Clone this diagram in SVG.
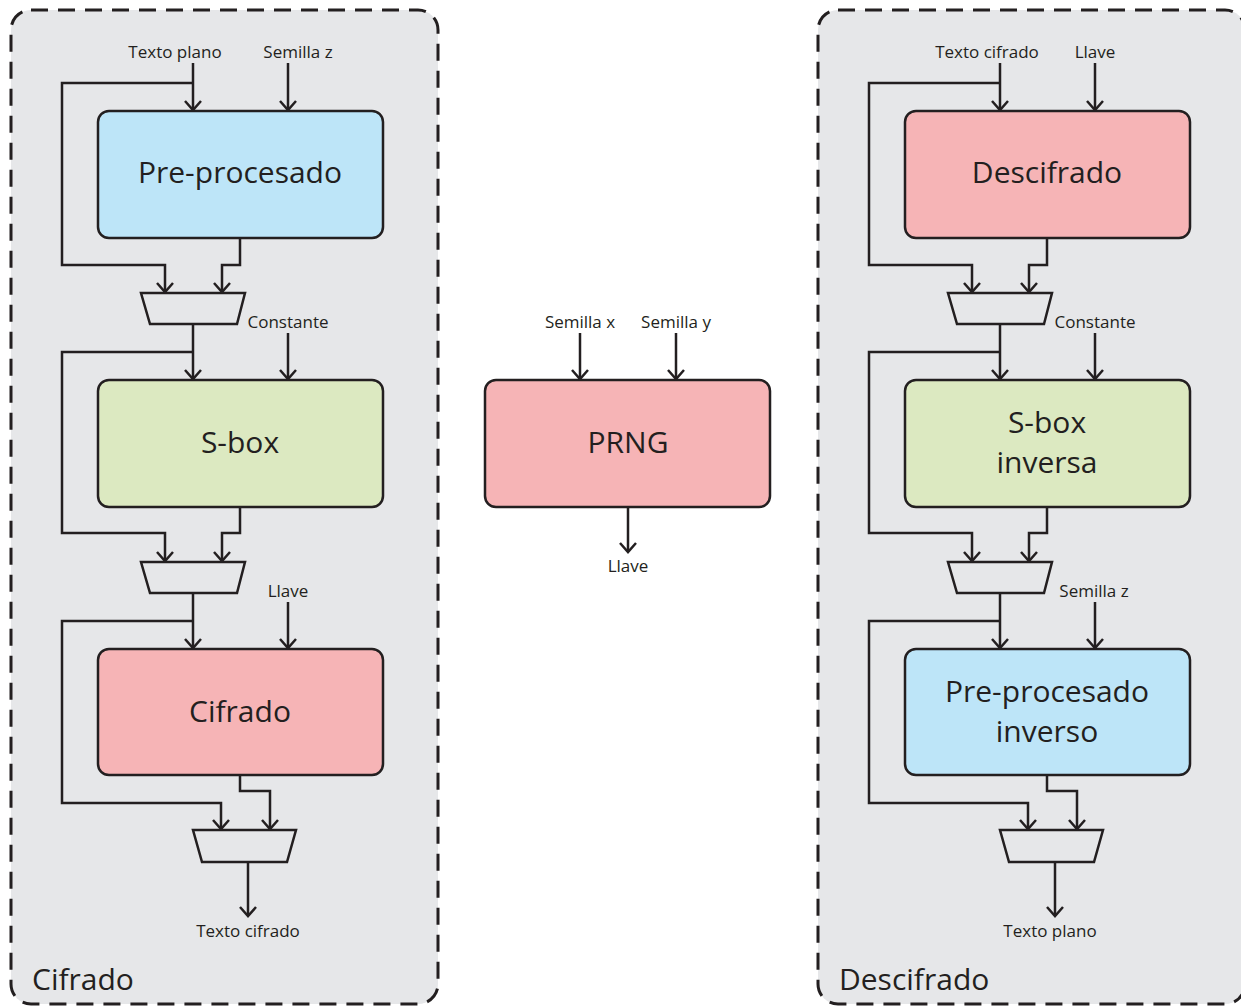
<svg xmlns="http://www.w3.org/2000/svg" width="1241" height="1006" viewBox="0 0 1241 1006">
  <style>
    .panel { fill: #e6e7e9; stroke: #231f20; stroke-width: 3; stroke-dasharray: 17 10; }
    .box { stroke: #231f20; stroke-width: 2.5; }
    .blue { fill: #bde5f8; }
    .green { fill: #dce9c1; }
    .red { fill: #f6b4b6; }
    .mux { fill: #e6e7e9; stroke: #231f20; stroke-width: 2.5; stroke-linejoin: miter; }
    .wire { fill: none; stroke: #231f20; stroke-width: 2.5; stroke-linejoin: miter; }
    .arr { marker-end: url(#head); }
    .big { font-family: "Open Sans", "Noto Sans", sans-serif; font-size: 30px; fill: #231f20; text-anchor: middle; }
    .lbl { font-family: "Open Sans", "Noto Sans", sans-serif; font-size: 17px; fill: #231f20; text-anchor: middle; }
    .title { font-family: "Open Sans", "Noto Sans", sans-serif; font-size: 30px; fill: #231f20; }
  </style>
  <defs>
    <marker id="head" markerUnits="userSpaceOnUse" markerWidth="24" markerHeight="24" refX="0" refY="0" viewBox="-12 -12 24 24" orient="auto" overflow="visible">
      <path d="M-9,-8 L0,0 L-9,8" fill="none" stroke="#231f20" stroke-width="2.5"/>
    </marker>
  </defs>

  <!-- panels -->
  <g id="panel-cifrado">
    <rect class="panel" x="11" y="10" width="427" height="994" rx="20"/>
    <text class="title" x="32" y="990">Cifrado</text>
  </g>
  <g id="panel-descifrado">
    <rect class="panel" x="818" y="10" width="427" height="994" rx="20"/>
    <text class="title" x="839" y="990">Descifrado</text>
  </g>

  <!-- connectors -->
  <g id="connectors">
    <!-- encryption column -->
    <path class="wire arr" d="M193,63 V110"/>
    <path class="wire arr" d="M288,63 V110"/>
    <path class="wire arr" d="M193,83 H62 V265 H165 V292"/>
    <path class="wire arr" d="M240,238 V265 H222 V292"/>
    <path class="wire arr" d="M193,324 V379"/>
    <path class="wire arr" d="M288,333 V379"/>
    <path class="wire arr" d="M193,352 H62 V533 H165 V561"/>
    <path class="wire arr" d="M240,507 V533 H222 V561"/>
    <path class="wire arr" d="M193,593 V648"/>
    <path class="wire arr" d="M288,602 V648"/>
    <path class="wire arr" d="M193,621 H62 V803 H221 V829"/>
    <path class="wire arr" d="M240,775 V791 H270 V829"/>
    <path class="wire arr" d="M248,862 V916"/>

    <!-- PRNG -->
    <path class="wire arr" d="M580,333 V379"/>
    <path class="wire arr" d="M676,333 V379"/>
    <path class="wire arr" d="M628,507 V552"/>

    <!-- decryption column -->
    <path class="wire arr" d="M1000,63 V110"/>
    <path class="wire arr" d="M1095,63 V110"/>
    <path class="wire arr" d="M1000,83 H869 V265 H972 V292"/>
    <path class="wire arr" d="M1047,238 V265 H1029 V292"/>
    <path class="wire arr" d="M1000,324 V379"/>
    <path class="wire arr" d="M1095,333 V379"/>
    <path class="wire arr" d="M1000,352 H869 V533 H972 V561"/>
    <path class="wire arr" d="M1047,507 V533 H1029 V561"/>
    <path class="wire arr" d="M1000,593 V648"/>
    <path class="wire arr" d="M1095,602 V648"/>
    <path class="wire arr" d="M1000,621 H869 V803 H1028 V829"/>
    <path class="wire arr" d="M1047,775 V791 H1077 V829"/>
    <path class="wire arr" d="M1055,862 V916"/>
  </g>

  <!-- encryption column nodes -->
  <g id="preprocesado">
    <rect class="box blue" x="98" y="111" width="285" height="127" rx="11"/>
    <text class="big" x="240" y="183">Pre-procesado</text>
  </g>
  <g id="mux-c1">
    <polygon class="mux" points="141,293 245,293 237,324 150,324"/>
  </g>
  <g id="sbox">
    <rect class="box green" x="98" y="380" width="285" height="127" rx="11"/>
    <text class="big" x="240" y="453">S-box</text>
  </g>
  <g id="mux-c2">
    <polygon class="mux" points="141,562 245,562 237,593 150,593"/>
  </g>
  <g id="cifrado">
    <rect class="box red" x="98" y="649" width="285" height="126" rx="11"/>
    <text class="big" x="240" y="722">Cifrado</text>
  </g>
  <g id="mux-c3">
    <polygon class="mux" points="193,830 296,830 287,862 202,862"/>
  </g>
  <g id="labels-cifrado">
    <text class="lbl" x="175" y="58">Texto plano</text>
    <text class="lbl" x="298" y="58">Semilla z</text>
    <text class="lbl" x="288" y="328">Constante</text>
    <text class="lbl" x="288" y="597">Llave</text>
    <text class="lbl" x="248" y="937">Texto cifrado</text>
  </g>

  <!-- PRNG -->
  <g id="prng">
    <rect class="box red" x="485" y="380" width="285" height="127" rx="11"/>
    <text class="big" x="628" y="453">PRNG</text>
    <text class="lbl" x="580" y="328">Semilla x</text>
    <text class="lbl" x="676" y="328">Semilla y</text>
    <text class="lbl" x="628" y="572">Llave</text>
  </g>

  <!-- decryption column nodes -->
  <g id="descifrado">
    <rect class="box red" x="905" y="111" width="285" height="127" rx="11"/>
    <text class="big" x="1047" y="183">Descifrado</text>
  </g>
  <g id="mux-d1">
    <polygon class="mux" points="948,293 1052,293 1044,324 957,324"/>
  </g>
  <g id="sbox-inversa">
    <rect class="box green" x="905" y="380" width="285" height="127" rx="11"/>
    <text class="big" x="1047" y="433">S-box</text>
    <text class="big" x="1047" y="473">inversa</text>
  </g>
  <g id="mux-d2">
    <polygon class="mux" points="948,562 1052,562 1044,593 957,593"/>
  </g>
  <g id="preprocesado-inverso">
    <rect class="box blue" x="905" y="649" width="285" height="126" rx="11"/>
    <text class="big" x="1047" y="702">Pre-procesado</text>
    <text class="big" x="1047" y="742">inverso</text>
  </g>
  <g id="mux-d3">
    <polygon class="mux" points="1000,830 1103,830 1094,862 1009,862"/>
  </g>
  <g id="labels-descifrado">
    <text class="lbl" x="987" y="58">Texto cifrado</text>
    <text class="lbl" x="1095" y="58">Llave</text>
    <text class="lbl" x="1095" y="328">Constante</text>
    <text class="lbl" x="1094" y="597">Semilla z</text>
    <text class="lbl" x="1050" y="937">Texto plano</text>
  </g>
</svg>
